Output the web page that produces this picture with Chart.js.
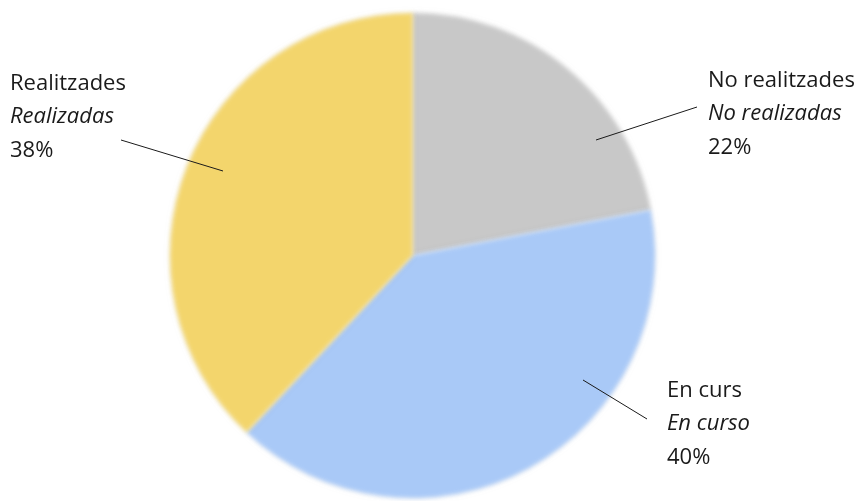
<!DOCTYPE html>
<html>
<head>
<meta charset="utf-8">
<script src="https://cdn.jsdelivr.net/npm/chart.js@4"></script>
<style>
    html, body { margin: 0; padding: 0; background: #ffffff; }
    #wrap { width: 859px; height: 501px; position: relative; }
</style>
</head>
<body>
<div id="wrap"><canvas id="statusChart"></canvas></div>
<script>
// data
const labelsCa = ['No realitzades', 'En curs', 'Realitzades'];
const labelsEs = ['No realizadas', 'En curso', 'Realizadas'];
const percents = [22, 40, 38];
const colors = ['#c8c8c8', '#a9c9f7', '#f3d56c'];

// where each label block and its leader line sit
const labelSpots = [
    { x: 708, y: 81, line: [596, 140, 697, 107] },
    { x: 667, y: 391, line: [583, 380, 647, 419] },
    { x: 10, y: 84, line: [121, 140, 223, 171] }
];

const softEdge = {
    id: 'softEdge',
    beforeDatasetsDraw(chart) {
        const ctx = chart.ctx;
        ctx.save();
        ctx.filter = 'blur(2px)';
        ctx.shadowColor = 'rgba(0,0,0,0.06)';
        ctx.shadowBlur = 6;
    },
    afterDatasetsDraw(chart) {
        chart.ctx.restore();
    }
};

const calloutLabels = {
    id: 'calloutLabels',
    afterDraw(chart) {
        const ctx = chart.ctx;
        ctx.save();
        ctx.fillStyle = '#1a1a1a';
        ctx.strokeStyle = '#1a1a1a';
        ctx.lineWidth = 1;
        ctx.textBaseline = 'middle';
        ctx.textAlign = 'left';
        labelSpots.forEach((s, i) => {
            ctx.beginPath();
            ctx.moveTo(s.line[0], s.line[1]);
            ctx.lineTo(s.line[2], s.line[3]);
            ctx.stroke();
            ctx.font = '22px "Open Sans"';
            ctx.fillText(labelsCa[i], s.x, s.y);
            ctx.font = 'italic 22px "Open Sans"';
            ctx.fillText(labelsEs[i], s.x, s.y + 33);
            ctx.font = '22px "Open Sans"';
            ctx.fillText(percents[i] + '%', s.x, s.y + 67);
        });
        ctx.restore();
    }
};

new Chart(document.getElementById('statusChart'), {
    type: 'pie',
    data: {
        labels: labelsCa,
        datasets: [{
            data: percents,
            backgroundColor: colors,
            borderWidth: 0
        }]
    },
    options: {
        responsive: true,
        maintainAspectRatio: false,
        animation: false,
        layout: { padding: { left: 170, right: 204, top: 13, bottom: 3 } },
        plugins: {
            legend: { display: false },
            tooltip: { enabled: false }
        }
    },
    plugins: [softEdge, calloutLabels]
});
</script>
</body>
</html>
